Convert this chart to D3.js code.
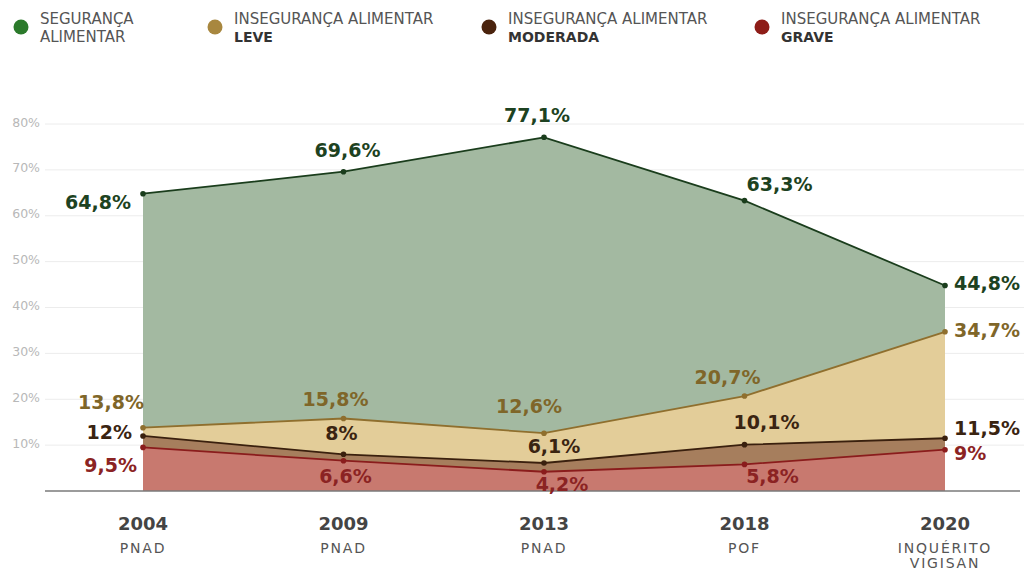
<!DOCTYPE html>
<html><head><meta charset="utf-8">
<script src="https://cdn.jsdelivr.net/npm/d3@7"></script>
<style>
html,body{margin:0;padding:0;background:#fff;}
svg{display:block;}
</style></head>
<body>
<svg id="chart" width="1024" height="571"></svg>
<script>
// ---- data ----
const years = ["2004", "2009", "2013", "2018", "2020"];
const sources = [["PNAD"], ["PNAD"], ["PNAD"], ["POF"], ["INQUÉRITO", "VIGISAN"]];
const seguranca = [64.8, 69.6, 77.1, 63.3, 44.8];
const leve = [13.8, 15.8, 12.6, 20.7, 34.7];
const moderada = [12, 8, 6.1, 10.1, 11.5];
const grave = [9.5, 6.6, 4.2, 5.8, 9];
const yTicks = [10, 20, 30, 40, 50, 60, 70, 80];
const legendLine1 = ["SEGURANÇA", "INSEGURANÇA ALIMENTAR", "INSEGURANÇA ALIMENTAR", "INSEGURANÇA ALIMENTAR"];
const legendLine2 = ["ALIMENTAR", "LEVE", "MODERADA", "GRAVE"];

// ---- styling / layout config ----
const series = [
  {values: seguranca, area: "#a3b9a1", line: "#1a3d1c", label: "#1d4221", dot: "#2b7a2b",
   offs: [[-12, 8, "end"], [4, -22, "middle"], [-7, -22, "middle"], [2, -17, "start"], [9, -2, "start"]]},
  {values: leve, area: "#e3cd99", line: "#8f6f2e", label: "#7f6629", dot: "#a8873f",
   offs: [[1, -26, "end"], [-8, -20, "middle"], [-15, -27, "middle"], [-17, -19, "middle"], [9, -2, "start"]]},
  {values: moderada, area: "#a67e5d", line: "#3a200e", label: "#3a2411", dot: "#4a230d",
   offs: [[-11, -4, "end"], [-2, -21, "middle"], [10, -17, "middle"], [22, -23, "middle"], [9, -10, "start"]]},
  {values: grave, area: "#c8796f", line: "#8a1c1c", label: "#8b2323", dot: "#8e1d18",
   offs: [[-6, 18, "end"], [2, 15, "middle"], [18, 12, "middle"], [28, 12, "middle"], [9, 3, "start"]]}
];
const legendX = [21, 215, 489, 762];

const svg = d3.select("#chart");
const x = d3.scalePoint().domain(years).range([143, 945]);
const y = d3.scaleLinear().domain([0, 80]).range([491, 124]);

// gridlines
svg.append("g").selectAll("line").data(yTicks).join("line")
  .attr("x1", 45).attr("x2", 1024)
  .attr("y1", d => y(d)).attr("y2", d => y(d))
  .attr("stroke", "#ececec").attr("stroke-width", 1);

// y tick labels
svg.append("g").selectAll("text").data(yTicks).join("text")
  .attr("x", 40).attr("y", d => y(d) - 2)
  .attr("text-anchor", "end").attr("dominant-baseline", "central")
  .attr("font-family", "'DejaVu Sans', sans-serif")
  .attr("font-size", 12.5).attr("fill", "#b8b8b8")
  .text(d => d + "%");

// areas
series.forEach(s => {
  s._pts = years.map((yr, i) => ({yr, v: s.values[i]}));
  const area = d3.area().x(d => x(d.yr)).y0(y(0)).y1(d => y(d.v));
  svg.append("path").datum(s._pts).attr("d", area).attr("fill", s.area);
});
// lines + points
series.forEach(s => {
  const line = d3.line().x(d => x(d.yr)).y(d => y(d.v));
  svg.append("path").datum(s._pts).attr("d", line)
    .attr("fill", "none").attr("stroke", s.line).attr("stroke-width", 1.8);
  svg.append("g").selectAll("circle").data(s._pts).join("circle")
    .attr("cx", d => x(d.yr)).attr("cy", d => y(d.v)).attr("r", 2.8)
    .attr("fill", s.line);
});

// baseline
svg.append("line").attr("x1", 45).attr("x2", 1020)
  .attr("y1", y(0)).attr("y2", y(0))
  .attr("stroke", "#7a7a7a").attr("stroke-width", 1.5);

// value labels
series.forEach(s => {
  svg.append("g").selectAll("text").data(s._pts).join("text")
    .attr("x", (d, i) => x(d.yr) + s.offs[i][0])
    .attr("y", (d, i) => y(d.v) + s.offs[i][1])
    .attr("text-anchor", (d, i) => s.offs[i][2])
    .attr("dominant-baseline", "central")
    .attr("font-family", "'DejaVu Sans', sans-serif")
    .attr("font-weight", "bold").attr("font-size", 19)
    .attr("fill", s.label)
    .text(d => String(d.v).replace(".", ",") + "%");
});

// x labels
const xl = svg.append("g").selectAll("g").data(years).join("g")
  .attr("transform", d => `translate(${x(d)},0)`);
xl.append("text").attr("y", 523).attr("text-anchor", "middle")
  .attr("dominant-baseline", "central")
  .attr("font-family", "'DejaVu Sans', sans-serif").attr("font-weight", "bold")
  .attr("font-size", 18).attr("fill", "#444").text(d => d);
xl.each(function(d, i) {
  d3.select(this).selectAll("text.src").data(sources[i]).join("text")
    .attr("class", "src")
    .attr("y", (t, j) => 548 + j * 15).attr("text-anchor", "middle")
    .attr("dominant-baseline", "central")
    .attr("font-family", "'DejaVu Sans', sans-serif")
    .attr("font-size", 14).attr("letter-spacing", 1.8).attr("fill", "#555")
    .text(t => t);
});

// legend
const lg = svg.append("g").selectAll("g").data(legendX).join("g")
  .attr("transform", d => `translate(${d},0)`);
lg.append("circle").attr("cx", 0).attr("cy", 27).attr("r", 7.5)
  .attr("fill", (d, i) => series[i].dot);
lg.append("text").attr("x", 19).attr("y", 19).attr("dominant-baseline", "central")
  .attr("font-family", "'DejaVu Sans', sans-serif")
  .attr("font-size", 15).attr("fill", "#555")
  .text((d, i) => legendLine1[i]);
lg.append("text").attr("x", 19).attr("y", 37).attr("dominant-baseline", "central")
  .attr("font-family", "'DejaVu Sans', sans-serif")
  .attr("font-size", (d, i) => i === 0 ? 15 : 14)
  .attr("font-weight", (d, i) => i === 0 ? "normal" : "bold")
  .attr("fill", (d, i) => i === 0 ? "#555" : "#333")
  .text((d, i) => legendLine2[i]);
</script>
</body></html>
